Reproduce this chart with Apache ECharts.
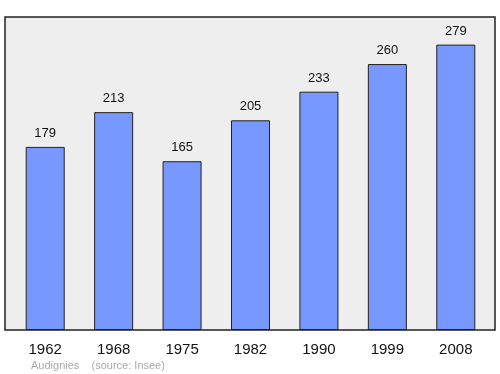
<!DOCTYPE html>
<html><head><meta charset="utf-8">
<script src="https://cdn.jsdelivr.net/npm/echarts@6/dist/echarts.min.js"></script>
<style>html,body{margin:0;padding:0;background:#fff}#c{width:500px;height:374px}</style>
</head><body><div id="c"></div>
<script>
var years = ['1962','1968','1975','1982','1990','1999','2008'];
var population = [179,213,165,205,233,260,279];
var footer = 'Audignies    (source: Insee)';

var chart = echarts.init(document.getElementById('c'), null, {renderer:'canvas'});
chart.setOption({
  animation:false,
  grid:[
    {left:5, top:17, width:490, height:313, show:true, backgroundColor:'#eeeeee', borderColor:'#222', borderWidth:1.5, z:0},
    {left:11, top:17, width:479, height:313}
  ],
  xAxis:[
    {gridIndex:0, type:'value', show:false, min:0, max:1},
    {gridIndex:1, type:'category', data:years,
     axisLine:{show:false}, axisTick:{show:false},
     axisLabel:{color:'#111', fontSize:15, fontFamily:'Liberation Sans', margin:12}}
  ],
  yAxis:[
    {gridIndex:0, type:'value', show:false, min:0, max:1},
    {gridIndex:1, type:'value', min:0, max:306, show:false}
  ],
  series:[{
    type:'bar', xAxisIndex:1, yAxisIndex:1, data:population, barWidth:39,
    itemStyle:{color:'#7799ff', borderColor:'#222', borderWidth:1},
    label:{show:true, position:'top', distance:7, color:'#111', fontSize:13, fontFamily:'Liberation Sans'}
  }],
  graphic:[{type:'text', left:31, top:360, style:{text:footer, fill:'#aaaaaa', fontSize:11, fontFamily:'Liberation Sans'}}]
});
</script></body></html>
